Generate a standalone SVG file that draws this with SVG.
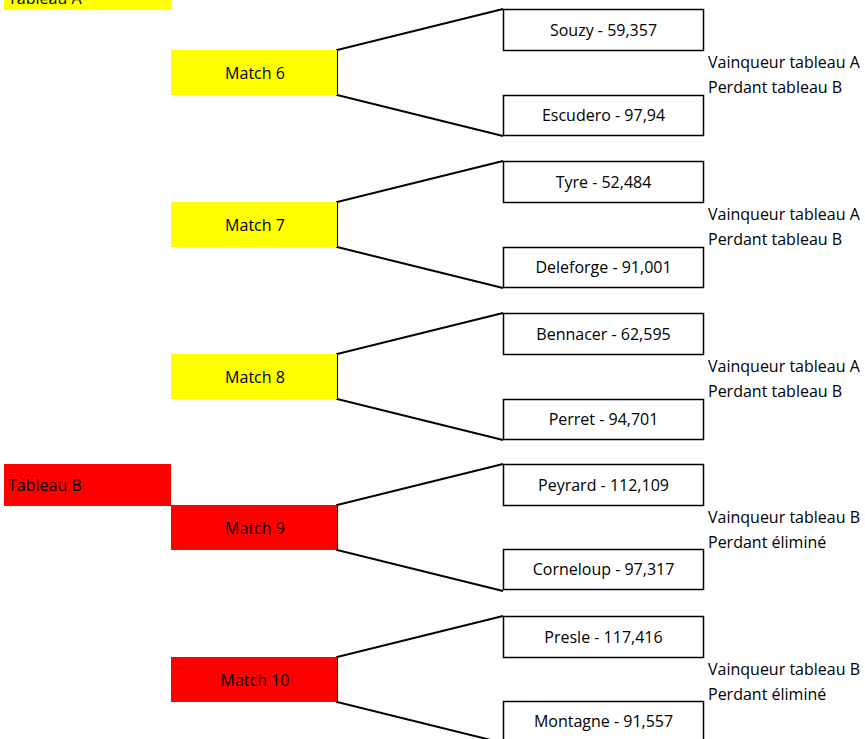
<svg xmlns="http://www.w3.org/2000/svg" width="865" height="739" viewBox="0 0 865 739">
<style>
text{font-family:"Open Sans","Liberation Sans",sans-serif;font-size:16px;fill:#000}
.c{text-anchor:middle}
.y{fill:#ffff00}
.r{fill:#ff0000}
.p{fill:#fff;stroke:#000;stroke-width:1.5}
.l{fill:none;stroke:#000;stroke-width:2}
</style>
<rect width="865" height="739" fill="#fff"/>
<g id="tableauA"><rect class="y" x="4" y="-5" width="167" height="15"/><text x="8" y="4">Tableau A</text></g>
<g id="tableauB"><rect class="r" x="4" y="464" width="167" height="42"/><text x="8" y="491">Tableau B</text></g>
<g id="connectors">
<polyline class="l" points="503,9 337,50 337,95 503,136"/>
<polyline class="l" points="503,161 337,202 337,247 503,288"/>
<polyline class="l" points="503,313 337,354 337,399 503,440"/>
<polyline class="l" points="503,464 337,505 337,550 503,591"/>
<polyline class="l" points="503,616 337,657 337,702 503,743"/>
</g>
<g id="match6"><rect class="y" x="171" y="50" width="166" height="45"/><text class="c" x="255" y="79">Match 6</text></g>
<g id="match7"><rect class="y" x="171" y="202" width="166" height="45"/><text class="c" x="255" y="231">Match 7</text></g>
<g id="match8"><rect class="y" x="171" y="354" width="166" height="45"/><text class="c" x="255" y="383">Match 8</text></g>
<g id="match9"><rect class="r" x="171" y="505" width="166" height="45"/><text class="c" x="255" y="534">Match 9</text></g>
<g id="match10"><rect class="r" x="171" y="657" width="166" height="45"/><text class="c" x="255" y="686">Match 10</text></g>
<g id="souzy"><rect class="p" x="503.5" y="9.5" width="200" height="41"/><text class="c" x="603.5" y="36">Souzy - 59,357</text></g>
<g id="escudero"><rect class="p" x="503.5" y="95.5" width="200" height="40"/><text class="c" x="603.5" y="121">Escudero - 97,94</text></g>
<g id="tyre"><rect class="p" x="503.5" y="161.5" width="200" height="41"/><text class="c" x="603.5" y="188">Tyre - 52,484</text></g>
<g id="deleforge"><rect class="p" x="503.5" y="247.5" width="200" height="40"/><text class="c" x="603.5" y="273">Deleforge - 91,001</text></g>
<g id="bennacer"><rect class="p" x="503.5" y="313.5" width="200" height="41"/><text class="c" x="603.5" y="340">Bennacer - 62,595</text></g>
<g id="perret"><rect class="p" x="503.5" y="399.5" width="200" height="40"/><text class="c" x="603.5" y="425">Perret - 94,701</text></g>
<g id="peyrard"><rect class="p" x="503.5" y="464.5" width="200" height="41"/><text class="c" x="603.5" y="491">Peyrard - 112,109</text></g>
<g id="corneloup"><rect class="p" x="503.5" y="549.5" width="200" height="40"/><text class="c" x="603.5" y="575">Corneloup - 97,317</text></g>
<g id="presle"><rect class="p" x="503.5" y="616.5" width="200" height="41"/><text class="c" x="603.5" y="643">Presle - 117,416</text></g>
<g id="montagne"><rect class="p" x="503.5" y="701.5" width="200" height="40"/><text class="c" x="603.5" y="727">Montagne - 91,557</text></g>
<g id="notes">
<text x="708" y="68">Vainqueur tableau A</text><text x="708" y="93">Perdant tableau B</text>
<text x="708" y="220">Vainqueur tableau A</text><text x="708" y="245">Perdant tableau B</text>
<text x="708" y="372">Vainqueur tableau A</text><text x="708" y="397">Perdant tableau B</text>
<text x="708" y="523">Vainqueur tableau B</text><text x="708" y="548">Perdant éliminé</text>
<text x="708" y="675">Vainqueur tableau B</text><text x="708" y="700">Perdant éliminé</text>
</g>
</svg>
